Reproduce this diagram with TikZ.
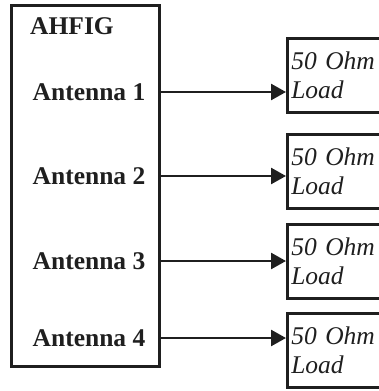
\documentclass[tikz,border=0pt]{standalone}
\usepackage{fontspec}
\setmainfont{Liberation Serif}
\usetikzlibrary{arrows.meta}

\begin{document}
\begin{tikzpicture}[x=1pt, y=-1pt, line width=2.6pt, color={black!88},
    ant/.style={font=\fontsize{25.5}{29}\selectfont\bfseries},
    load/.style={draw, anchor=north west, minimum width=96pt, minimum height=74pt,
      text width=88pt, align=left, inner sep=3pt, font=\fontsize{25.5}{29}\selectfont\itshape},
    feed/.style={-{Triangle[length=15pt,width=16pt]}}]
        \useasboundingbox (0,0) rectangle (378,391);
        \node[draw, anchor=north west, minimum width=148pt, minimum height=361pt] (ahfig) at (10,4) {};
        \node[ant] (title) at (72,26) {AHFIG};
        \node[ant] (ant1) at (89,92) {Antenna 1};
        \node[ant] (ant2) at (89,176) {Antenna 2};
        \node[ant] (ant3) at (89,261) {Antenna 3};
        \node[ant] (ant4) at (89,338) {Antenna 4};
        \node[load] (load1) at (286,37) {50 Ohm\\Load};
        \node[load] (load2) at (286,133) {50 Ohm\\Load};
        \node[load] (load3) at (286,223) {50 Ohm\\Load};
        \node[load] (load4) at (286,312) {50 Ohm\\Load};
        \draw[feed] (ahfig.east |- ant1) -- (ant1 -| load1.west);
        \draw[feed] (ahfig.east |- ant2) -- (ant2 -| load2.west);
        \draw[feed] (ahfig.east |- ant3) -- (ant3 -| load3.west);
        \draw[feed] (ahfig.east |- ant4) -- (ant4 -| load4.west);
\end{tikzpicture}
\end{document}
